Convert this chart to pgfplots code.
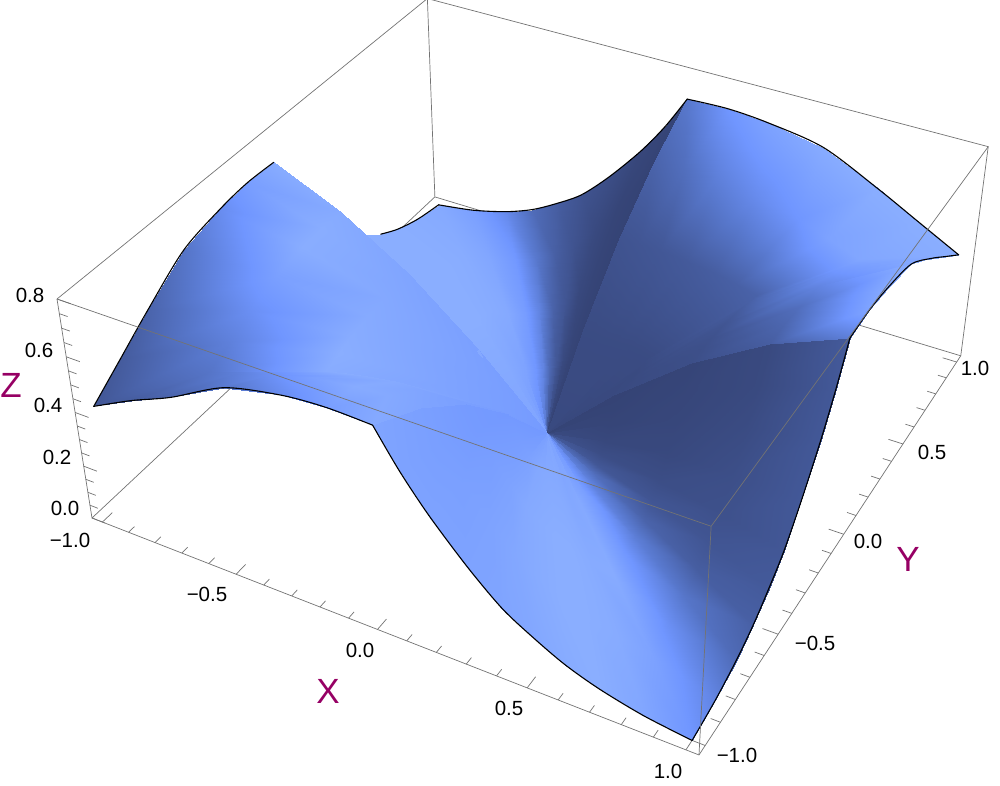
\documentclass[border=0pt]{standalone}
\usepackage{fontspec}
\setmainfont{Liberation Sans}
\usepackage{pgfplots}
\usepackage{pgfplotstable}
\pgfplotsset{compat=1.18}

% box corners in the picture give this perspective map
\newcommand{\wexp}{(1-0.112*(\thisrow{x}+1.04)/2.08+0.21*(\thisrow{y}+1.04)/2.08-0.07*\thisrow{z}/0.8)}
\pgfplotsset{table/persp/.style={
  x expr={(92+528.7*(\thisrow{x}+1.04)/2.08+434.2*(\thisrow{y}+1.04)/2.08-39*\thisrow{z}/0.8)/\wexp},
  y expr={786-(518+152.4*(\thisrow{x}+1.04)/2.08-279.7*(\thisrow{y}+1.04)/2.08-239.9*\thisrow{z}/0.8)/\wexp},
  z expr={-\wexp}}}

\definecolor{lab}{RGB}{150,0,100}
\definecolor{boxc}{RGB}{115,115,115}

% one line per ray from the origin to the edge of the square: x y z shade
\pgfplotstableread[row sep=\\]{
x y z s\\
0 0 0 0.06\\ 0 0.25 0.243 0.1\\ 0 0.5 0.447 0.18\\ 0 0.75 0.6 0.33\\ 0 1 0.707 0.5\\
0 0 0 0.08\\ 0.0375 0.25 0.244 0.1\\ 0.075 0.5 0.45 0.2\\ 0.1125 0.75 0.604 0.42\\ 0.15 1 0.712 0.75\\
0 0 0 0.08\\ 0.075 0.25 0.24 0.1\\ 0.15 0.5 0.445 0.22\\ 0.225 0.75 0.596 0.55\\ 0.3 1 0.7 0.88\\
0 0 0 0.08\\ 0.125 0.25 0.24 0.1\\ 0.25 0.5 0.44 0.25\\ 0.375 0.75 0.58 0.66\\ 0.5 1 0.665 0.97\\
0 0 0 0.08\\ 0.175 0.25 0.24 0.1\\ 0.35 0.5 0.425 0.28\\ 0.525 0.75 0.54 0.75\\ 0.7 1 0.57 1\\
0 0 0 0.07\\ 0.2125 0.25 0.235 0.1\\ 0.425 0.5 0.41 0.3\\ 0.6375 0.75 0.5 0.88\\ 0.85 1 0.49 1\\
0 0 0 0.06\\ 0.25 0.25 0.225 0.1\\ 0.5 0.5 0.39 0.32\\ 0.75 0.75 0.46 0.92\\ 1 1 0.41 1\\
0 0 0 0.06\\ 0.25 0.2125 0.235 0.1\\ 0.5 0.425 0.41 0.3\\ 0.75 0.6375 0.5 0.82\\ 1 0.85 0.49 1\\
0 0 0 0.06\\ 0.25 0.175 0.24 0.09\\ 0.5 0.35 0.425 0.26\\ 0.75 0.525 0.54 0.74\\ 1 0.7 0.57 1\\
0 0 0 0.06\\ 0.25 0.125 0.24 0.08\\ 0.5 0.25 0.44 0.2\\ 0.75 0.375 0.58 0.6\\ 1 0.5 0.665 1\\
0 0 0 0.06\\ 0.25 0.075 0.24 0.08\\ 0.5 0.15 0.445 0.16\\ 0.75 0.225 0.596 0.42\\ 1 0.3 0.7 0.97\\
0 0 0 0.06\\ 0.25 0.0375 0.244 0.08\\ 0.5 0.075 0.45 0.14\\ 0.75 0.1125 0.604 0.35\\ 1 0.15 0.712 0.9\\
0 0 0 0.05\\ 0.25 0 0.243 0.08\\ 0.5 0 0.447 0.13\\ 0.75 0 0.6 0.28\\ 1 0 0.707 0.55\\
0 0 0 0\\ 0.25 0 0.243 0.01\\ 0.5 0 0.447 0.03\\ 0.75 0 0.6 0.08\\ 1 0 0.707 0.25\\
0 0 0 0.02\\ 0.25 -0.02 0.199 0.02\\ 0.5 -0.04 0.367 0.04\\ 0.75 -0.06 0.492 0.08\\ 1 -0.08 0.58 0.23\\
0 0 0 0.04\\ 0.25 -0.0425 0.158 0.03\\ 0.5 -0.085 0.291 0.05\\ 0.75 -0.1275 0.391 0.1\\ 1 -0.17 0.46 0.23\\
0 0 0 0.08\\ 0.25 -0.0725 0.111 0.06\\ 0.5 -0.145 0.205 0.07\\ 0.75 -0.2175 0.276 0.13\\ 1 -0.29 0.325 0.23\\
0 0 0 0.15\\ 0.25 -0.1 0.075 0.12\\ 0.5 -0.2 0.139 0.12\\ 0.75 -0.3 0.187 0.15\\ 1 -0.4 0.22 0.22\\
0 0 0 0.25\\ 0.25 -0.125 0.053 0.22\\ 0.5 -0.25 0.098 0.2\\ 0.75 -0.375 0.132 0.2\\ 1 -0.5 0.155 0.25\\
0 0 0 0.4\\ 0.25 -0.15 0.034 0.42\\ 0.5 -0.3 0.063 0.33\\ 0.75 -0.45 0.085 0.28\\ 1 -0.6 0.1 0.3\\
0 0 0 0.55\\ 0.25 -0.1775 0.02 0.6\\ 0.5 -0.355 0.037 0.55\\ 0.75 -0.5325 0.049 0.48\\ 1 -0.71 0.058 0.38\\
0 0 0 0.7\\ 0.25 -0.2125 0.008 0.85\\ 0.5 -0.425 0.014 0.78\\ 0.75 -0.6375 0.019 0.7\\ 1 -0.85 0.022 0.6\\
0 0 0 0.8\\ 0.25 -0.25 0 0.95\\ 0.5 -0.5 0 0.97\\ 0.75 -0.75 0 0.88\\ 1 -1 0 0.75\\
0 0 0 0.88\\ 0.2125 -0.25 0.008 0.93\\ 0.425 -0.5 0.014 0.97\\ 0.6375 -0.75 0.019 0.97\\ 0.85 -1 0.022 0.92\\
0 0 0 0.92\\ 0.1775 -0.25 0.02 0.96\\ 0.355 -0.5 0.037 1\\ 0.5325 -0.75 0.049 1\\ 0.71 -1 0.058 1\\
0 0 0 0.9\\ 0.15 -0.25 0.034 0.96\\ 0.3 -0.5 0.063 1\\ 0.45 -0.75 0.085 1\\ 0.6 -1 0.1 0.97\\
0 0 0 0.9\\ 0.125 -0.25 0.053 0.95\\ 0.25 -0.5 0.098 0.98\\ 0.375 -0.75 0.132 0.97\\ 0.5 -1 0.155 0.93\\
0 0 0 0.86\\ 0.1 -0.25 0.075 0.93\\ 0.2 -0.5 0.139 0.95\\ 0.3 -0.75 0.187 0.93\\ 0.4 -1 0.22 0.9\\
0 0 0 0.84\\ 0.0725 -0.25 0.111 0.86\\ 0.145 -0.5 0.205 0.88\\ 0.2175 -0.75 0.276 0.88\\ 0.29 -1 0.325 0.88\\
0 0 0 0.8\\ 0.0425 -0.25 0.158 0.82\\ 0.085 -0.5 0.291 0.83\\ 0.1275 -0.75 0.391 0.85\\ 0.17 -1 0.46 0.88\\
0 0 0 0.78\\ 0.02 -0.25 0.199 0.8\\ 0.04 -0.5 0.367 0.8\\ 0.06 -0.75 0.492 0.84\\ 0.08 -1 0.58 0.88\\
0 0 0 0.78\\ 0 -0.25 0.243 0.78\\ 0 -0.5 0.447 0.8\\ 0 -0.75 0.6 0.85\\ 0 -1 0.707 0.9\\
0 0 0 0.8\\ 0 -0.25 0.243 0.82\\ 0 -0.5 0.447 0.85\\ 0 -0.75 0.6 0.9\\ 0 -1 0.707 0.95\\
0 0 0 0.8\\ -0.0375 -0.25 0.244 0.83\\ -0.075 -0.5 0.45 0.87\\ -0.1125 -0.75 0.604 0.95\\ -0.15 -1 0.712 0.83\\
0 0 0 0.8\\ -0.075 -0.25 0.24 0.85\\ -0.15 -0.5 0.445 0.9\\ -0.225 -0.75 0.596 0.97\\ -0.3 -1 0.7 0.67\\
0 0 0 0.8\\ -0.125 -0.25 0.24 0.875\\ -0.25 -0.5 0.44 0.96\\ -0.375 -0.75 0.575 0.85\\ -0.5 -1 0.655 0.47\\
0 0 0 0.8\\ -0.175 -0.25 0.24 0.885\\ -0.35 -0.5 0.425 0.98\\ -0.525 -0.75 0.53 0.69\\ -0.7 -1 0.55 0.33\\
0 0 0 0.8\\ -0.2125 -0.25 0.235 0.89\\ -0.425 -0.5 0.41 1\\ -0.6375 -0.75 0.5 0.57\\ -0.85 -1 0.485 0.26\\
0 0 0 0.8\\ -0.25 -0.25 0.225 0.9\\ -0.5 -0.5 0.39 0.98\\ -0.75 -0.75 0.46 0.47\\ -1 -1 0.41 0.22\\
0 0 0 0.8\\ -0.25 -0.2125 0.235 0.89\\ -0.5 -0.425 0.41 1\\ -0.75 -0.6375 0.5 0.57\\ -1 -0.85 0.49 0.26\\
0 0 0 0.8\\ -0.25 -0.175 0.24 0.885\\ -0.5 -0.35 0.425 0.98\\ -0.75 -0.525 0.54 0.69\\ -1 -0.7 0.57 0.33\\
0 0 0 0.8\\ -0.25 -0.125 0.24 0.875\\ -0.5 -0.25 0.44 0.96\\ -0.75 -0.375 0.58 0.85\\ -1 -0.5 0.665 0.47\\
0 0 0 0.8\\ -0.25 -0.075 0.24 0.87\\ -0.5 -0.15 0.445 0.94\\ -0.75 -0.225 0.596 0.99\\ -1 -0.3 0.7 0.67\\
0 0 0 0.8\\ -0.25 -0.0375 0.244 0.86\\ -0.5 -0.075 0.45 0.92\\ -0.75 -0.1125 0.604 0.99\\ -1 -0.15 0.712 0.83\\
0 0 0 0.8\\ -0.25 0 0.243 0.85\\ -0.5 0 0.447 0.9\\ -0.75 0 0.6 0.96\\ -1 0 0.707 0.98\\
0 0 0 0.88\\ -0.25 0 0.243 0.95\\ -0.5 0 0.447 1\\ -0.75 0 0.6 1\\ -1 0 0.707 1\\
0 0 0 0.88\\ -0.25 0.02 0.199 0.95\\ -0.5 0.04 0.367 1\\ -0.75 0.06 0.492 1\\ -1 0.08 0.58 1\\
0 0 0 0.88\\ -0.25 0.0425 0.158 0.95\\ -0.5 0.085 0.291 1\\ -0.75 0.1275 0.391 1\\ -1 0.17 0.46 1\\
0 0 0 0.88\\ -0.25 0.0725 0.111 0.95\\ -0.5 0.145 0.205 1\\ -0.75 0.2175 0.276 1\\ -1 0.29 0.325 1\\
0 0 0 0.9\\ -0.25 0.1 0.075 0.95\\ -0.5 0.2 0.139 1\\ -0.75 0.3 0.187 1\\ -1 0.4 0.22 1\\
0 0 0 0.9\\ -0.25 0.125 0.053 0.95\\ -0.5 0.25 0.098 1\\ -0.75 0.375 0.132 1\\ -1 0.5 0.155 1\\
0 0 0 0.9\\ -0.25 0.15 0.034 0.95\\ -0.5 0.3 0.063 1\\ -0.75 0.45 0.085 1\\ -1 0.6 0.1 1\\
0 0 0 0.9\\ -0.25 0.1775 0.02 0.95\\ -0.5 0.355 0.037 1\\ -0.75 0.5325 0.049 1\\ -1 0.71 0.058 1\\
0 0 0 0.9\\ -0.25 0.2125 0.008 0.95\\ -0.5 0.425 0.014 1\\ -0.75 0.6375 0.019 1\\ -1 0.85 0.022 0.98\\
0 0 0 0.85\\ -0.25 0.25 0 0.92\\ -0.5 0.5 0 0.98\\ -0.75 0.75 0 0.98\\ -1 1 0 0.95\\
0 0 0 0.8\\ -0.2125 0.25 0.008 0.88\\ -0.425 0.5 0.014 0.95\\ -0.6375 0.75 0.019 0.92\\ -0.85 1 0.022 0.85\\
0 0 0 0.65\\ -0.1775 0.25 0.02 0.75\\ -0.355 0.5 0.037 0.82\\ -0.5325 0.75 0.049 0.78\\ -0.71 1 0.058 0.65\\
0 0 0 0.5\\ -0.15 0.25 0.034 0.6\\ -0.3 0.5 0.063 0.6\\ -0.45 0.75 0.085 0.5\\ -0.6 1 0.1 0.4\\
0 0 0 0.35\\ -0.125 0.25 0.053 0.38\\ -0.25 0.5 0.098 0.33\\ -0.375 0.75 0.132 0.3\\ -0.5 1 0.155 0.28\\
0 0 0 0.22\\ -0.1 0.25 0.075 0.22\\ -0.2 0.5 0.139 0.2\\ -0.3 0.75 0.187 0.18\\ -0.4 1 0.22 0.18\\
0 0 0 0.1\\ -0.0725 0.25 0.111 0.08\\ -0.145 0.5 0.205 0.07\\ -0.2175 0.75 0.276 0.08\\ -0.29 1 0.325 0.12\\
0 0 0 0.04\\ -0.0425 0.25 0.158 0.03\\ -0.085 0.5 0.291 0.03\\ -0.1275 0.75 0.391 0.03\\ -0.17 1 0.46 0.05\\
0 0 0 0.02\\ -0.02 0.25 0.199 0.02\\ -0.04 0.5 0.367 0.02\\ -0.06 0.75 0.492 0.02\\ -0.08 1 0.58 0.03\\
0 0 0 0.01\\ 0 0.25 0.243 0.01\\ 0 0.5 0.447 0.01\\ 0 0.75 0.6 0.01\\ 0 1 0.707 0.02\\
}\surfdata

\begin{document}
\begin{tikzpicture}
\path[use as bounding box] (0,0) rectangle (1000pt,786pt);
\begin{axis}[
  at={(0,0)}, anchor=south west,
  scale only axis, width=1000pt, height=786pt,
  xmin=0, xmax=1000, ymin=0, ymax=786,
  view={0}{90}, hide axis, clip=false,
  colormap={mma}{rgb255=(52,66,115) rgb255=(68,90,155) rgb255=(88,120,205) rgb255=(112,150,255) rgb255=(138,174,255)},
  colormap name=mma,
  point meta min=0, point meta max=1,
  every axis plot/.append style={forget plot},
  boxl/.style={boxc, line width=0.7pt, mark=none},
  riml/.style={black, line width=1.1pt, mark=none, smooth, tension=0.5, line cap=round},
]
% box edges behind the surface
\addplot3[boxl] table[persp,row sep=\\] {x y z\\ -1.04 -1.04 0.8\\ -1.04 -1.04 0\\ 1.04 -1.04 0\\ 1.04 1.04 0\\ -1.04 1.04 0\\ -1.04 -1.04 0\\};
\addplot3[boxl] table[persp,row sep=\\] {x y z\\ -1.04 -1.04 0.8\\ -1.04 1.04 0.8\\ 1.04 1.04 0.8\\ 1.04 1.04 0\\};
\addplot3[boxl] table[persp,row sep=\\] {x y z\\ -1.04 1.04 0.8\\ -1.04 1.04 0\\};
% ticks
\pgfplotsinvokeforeach{-1,-0.5,0,0.5,1}{
  \addplot3[boxl] table[persp,row sep=\\] {x y z\\ #1 -1.04 0\\ #1 -0.99 0\\};
  \addplot3[boxl] table[persp,row sep=\\] {x y z\\ 1.04 #1 0\\ 0.99 #1 0\\};
}
\pgfplotsinvokeforeach{-0.9,-0.8,-0.7,-0.6,-0.4,-0.3,-0.2,-0.1,0.1,0.2,0.3,0.4,0.6,0.7,0.8,0.9}{
  \addplot3[boxl] table[persp,row sep=\\] {x y z\\ #1 -1.04 0\\ #1 -1.01 0\\};
  \addplot3[boxl] table[persp,row sep=\\] {x y z\\ 1.04 #1 0\\ 1.01 #1 0\\};
}
\pgfplotsinvokeforeach{0,0.2,0.4,0.6,0.8}{
  \addplot3[boxl] table[persp,row sep=\\] {x y z\\ -1.04 -1.04 #1\\ -0.99 -1.04 #1\\};
}
\pgfplotsinvokeforeach{0.05,0.1,0.15,0.25,0.3,0.35,0.45,0.5,0.55,0.65,0.7,0.75}{
  \addplot3[boxl] table[persp,row sep=\\] {x y z\\ -1.04 -1.04 #1\\ -1.01 -1.04 #1\\};
}
% the surface
\addplot3[surf, shader=interp, z buffer=sort, mesh/rows=64, mesh/cols=5,
  point meta=\thisrow{s}] table[persp] {\surfdata};
% black rim, one smooth piece between kinks, hidden stretch of x=-1 left out
\addplot3[riml] table[persp,row sep=\\] {x y z\\ -1 0.6 0.1\\ -1 0.71 0.058\\ -1 0.85 0.022\\ -1 1 0\\};
\addplot3[riml] table[persp,row sep=\\] {x y z\\ -1 1 0\\ -0.85 1 0.022\\ -0.71 1 0.058\\ -0.6 1 0.1\\ -0.5 1 0.155\\ -0.4 1 0.22\\ -0.29 1 0.325\\ -0.17 1 0.46\\ -0.08 1 0.58\\ 0 1 0.707\\};
\addplot3[riml] table[persp,row sep=\\] {x y z\\ 0 1 0.707\\ 0.15 1 0.712\\ 0.3 1 0.7\\ 0.5 1 0.665\\ 0.7 1 0.57\\ 0.85 1 0.49\\ 1 1 0.41\\};
\addplot3[riml] table[persp,row sep=\\] {x y z\\ 1 1 0.41\\ 1 0.85 0.49\\ 1 0.7 0.57\\ 1 0.5 0.665\\ 1 0.3 0.7\\ 1 0.15 0.712\\ 1 0 0.707\\};
\addplot3[riml] table[persp,row sep=\\] {x y z\\ 1 0 0.707\\ 1 -0.08 0.58\\ 1 -0.17 0.46\\ 1 -0.29 0.325\\ 1 -0.4 0.22\\ 1 -0.5 0.155\\ 1 -0.6 0.1\\ 1 -0.71 0.058\\ 1 -0.85 0.022\\ 1 -1 0\\};
\addplot3[riml] table[persp,row sep=\\] {x y z\\ 1 -1 0\\ 0.85 -1 0.022\\ 0.71 -1 0.058\\ 0.6 -1 0.1\\ 0.5 -1 0.155\\ 0.4 -1 0.22\\ 0.29 -1 0.325\\ 0.17 -1 0.46\\ 0.08 -1 0.58\\ 0 -1 0.707\\};
\addplot3[riml] table[persp,row sep=\\] {x y z\\ 0 -1 0.707\\ -0.15 -1 0.712\\ -0.3 -1 0.7\\ -0.5 -1 0.655\\ -0.7 -1 0.55\\ -0.85 -1 0.485\\ -1 -1 0.41\\};
\addplot3[riml] table[persp,row sep=\\] {x y z\\ -1 -1 0.41\\ -1 -0.85 0.49\\ -1 -0.7 0.57\\ -1 -0.5 0.665\\ -1 -0.3 0.7\\ -1 -0.15 0.712\\ -1 0 0.707\\};
% box edges in front
\addplot3[boxl] table[persp,row sep=\\] {x y z\\ -1.04 -1.04 0.8\\ 1.04 -1.04 0.8\\ 1.04 1.04 0.8\\};
\addplot3[boxl] table[persp,row sep=\\] {x y z\\ 1.04 -1.04 0.8\\ 1.04 -1.04 0\\};
% tick labels
\begin{scope}[every node/.style={font=\fontsize{20.5}{20.5}\selectfont, inner sep=0pt}]
\node at (axis cs:70,246,0) {−1.0};
\node at (axis cs:207,192,0) {−0.5};
\node at (axis cs:360,136,0) {0.0};
\node at (axis cs:509,78,0) {0.5};
\node at (axis cs:668,15,0) {1.0};
\node at (axis cs:737,31,0) {−1.0};
\node at (axis cs:815,143,0) {−0.5};
\node at (axis cs:868,245,0) {0.0};
\node at (axis cs:932,334,0) {0.5};
\node at (axis cs:975,418,0) {1.0};
\node at (axis cs:65,278,0) {0.0};
\node at (axis cs:57,329,0) {0.2};
\node at (axis cs:48,381,0) {0.4};
\node at (axis cs:39,436,0) {0.6};
\node at (axis cs:30,491,0) {0.8};
\end{scope}
\begin{scope}[every node/.style={font=\fontsize{35}{35}\selectfont, text=lab, inner sep=0pt}]
\node at (axis cs:328,95,0) {X};
\node at (axis cs:908,227,0) {Y};
\node at (axis cs:11,401,0) {Z};
\end{scope}
\end{axis}
\end{tikzpicture}
\end{document}
